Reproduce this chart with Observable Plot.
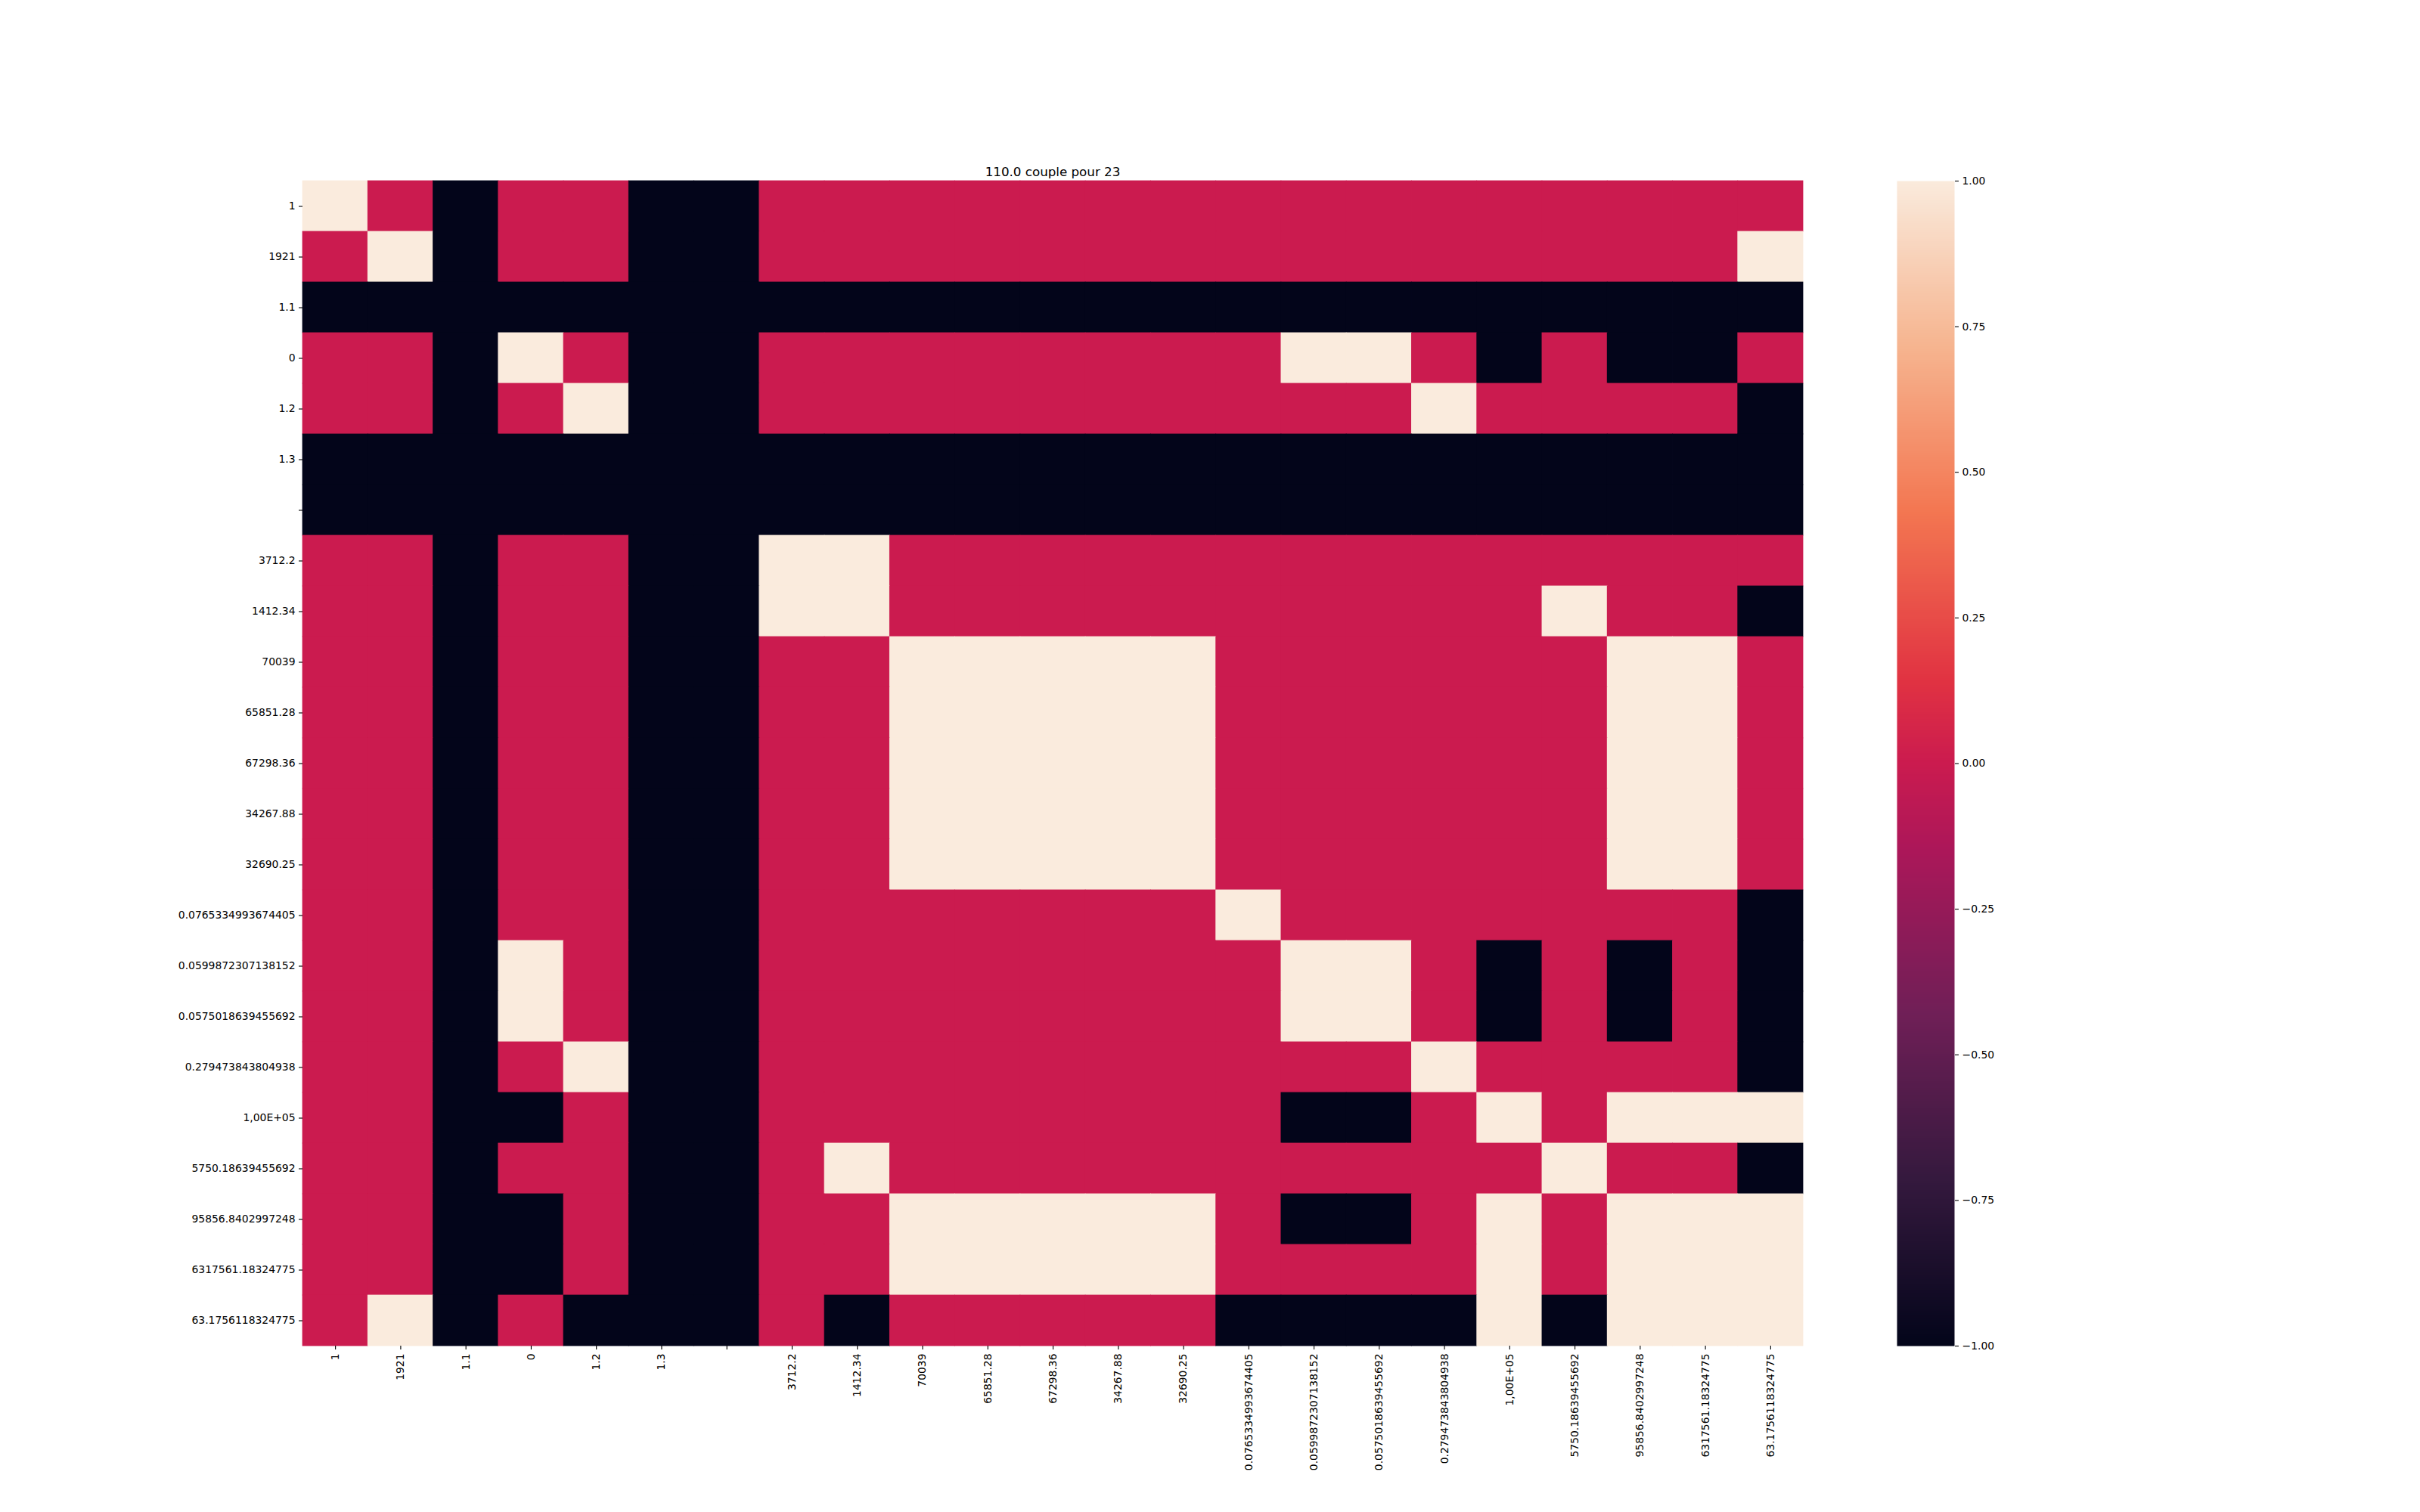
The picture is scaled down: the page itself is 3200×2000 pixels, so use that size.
<!DOCTYPE html>
<html>
<head>
<meta charset="utf-8">
<script src="https://cdn.jsdelivr.net/npm/d3@7"></script>
<script src="https://cdn.jsdelivr.net/npm/@observablehq/plot@0.6"></script>
<style>
  html, body { margin: 0; padding: 0; background: white; }
  #wrap { position: relative; width: 3200px; height: 2000px; background: white; font-family: "DejaVu Sans", sans-serif; }
  #title { position: absolute; left: 0; width: 2784px; top: 219px; text-align: center; font-size: 16.7px; line-height: 16.7px; color: black; }
  #heat, #bar { position: absolute; top: 0; }
  #heat { left: 0; }
  #bar { left: 2508px; }
</style>
</head>
<body>
<div id="wrap">
  <div id="heat"></div>
  <div id="bar"></div>
  <div id="title">110.0 couple pour 23</div>
</div>
<script>
const titleText = "110.0 couple pour 23";
const labels = ["1", "1921", "1.1", "0", "1.2", "1.3", "", "3712.2", "1412.34", "70039", "65851.28",
  "67298.36", "34267.88", "32690.25", "0.0765334993674405", "0.0599872307138152", "0.0575018639455692",
  "0.279473843804938", "1,00E+05", "5750.18639455692", "95856.8402997248", "6317561.18324775", "63.1756118324775"];

const matrix = [
  [ 1, 0,-1, 0, 0,-1,-1,  0, 0, 0, 0, 0, 0, 0,  0, 0, 0, 0, 0, 0, 0, 0, 0],
  [ 0, 1,-1, 0, 0,-1,-1,  0, 0, 0, 0, 0, 0, 0,  0, 0, 0, 0, 0, 0, 0, 0, 1],
  [-1,-1,-1,-1,-1,-1,-1, -1,-1,-1,-1,-1,-1,-1, -1,-1,-1,-1,-1,-1,-1,-1,-1],
  [ 0, 0,-1, 1, 0,-1,-1,  0, 0, 0, 0, 0, 0, 0,  0, 1, 1, 0,-1, 0,-1,-1, 0],
  [ 0, 0,-1, 0, 1,-1,-1,  0, 0, 0, 0, 0, 0, 0,  0, 0, 0, 1, 0, 0, 0, 0,-1],
  [-1,-1,-1,-1,-1,-1,-1, -1,-1,-1,-1,-1,-1,-1, -1,-1,-1,-1,-1,-1,-1,-1,-1],
  [-1,-1,-1,-1,-1,-1,-1, -1,-1,-1,-1,-1,-1,-1, -1,-1,-1,-1,-1,-1,-1,-1,-1],
  [ 0, 0,-1, 0, 0,-1,-1,  1, 1, 0, 0, 0, 0, 0,  0, 0, 0, 0, 0, 0, 0, 0, 0],
  [ 0, 0,-1, 0, 0,-1,-1,  1, 1, 0, 0, 0, 0, 0,  0, 0, 0, 0, 0, 1, 0, 0,-1],
  [ 0, 0,-1, 0, 0,-1,-1,  0, 0, 1, 1, 1, 1, 1,  0, 0, 0, 0, 0, 0, 1, 1, 0],
  [ 0, 0,-1, 0, 0,-1,-1,  0, 0, 1, 1, 1, 1, 1,  0, 0, 0, 0, 0, 0, 1, 1, 0],
  [ 0, 0,-1, 0, 0,-1,-1,  0, 0, 1, 1, 1, 1, 1,  0, 0, 0, 0, 0, 0, 1, 1, 0],
  [ 0, 0,-1, 0, 0,-1,-1,  0, 0, 1, 1, 1, 1, 1,  0, 0, 0, 0, 0, 0, 1, 1, 0],
  [ 0, 0,-1, 0, 0,-1,-1,  0, 0, 1, 1, 1, 1, 1,  0, 0, 0, 0, 0, 0, 1, 1, 0],
  [ 0, 0,-1, 0, 0,-1,-1,  0, 0, 0, 0, 0, 0, 0,  1, 0, 0, 0, 0, 0, 0, 0,-1],
  [ 0, 0,-1, 1, 0,-1,-1,  0, 0, 0, 0, 0, 0, 0,  0, 1, 1, 0,-1, 0,-1, 0,-1],
  [ 0, 0,-1, 1, 0,-1,-1,  0, 0, 0, 0, 0, 0, 0,  0, 1, 1, 0,-1, 0,-1, 0,-1],
  [ 0, 0,-1, 0, 1,-1,-1,  0, 0, 0, 0, 0, 0, 0,  0, 0, 0, 1, 0, 0, 0, 0,-1],
  [ 0, 0,-1,-1, 0,-1,-1,  0, 0, 0, 0, 0, 0, 0,  0,-1,-1, 0, 1, 0, 1, 1, 1],
  [ 0, 0,-1, 0, 0,-1,-1,  0, 1, 0, 0, 0, 0, 0,  0, 0, 0, 0, 0, 1, 0, 0,-1],
  [ 0, 0,-1,-1, 0,-1,-1,  0, 0, 1, 1, 1, 1, 1,  0,-1,-1, 0, 1, 0, 1, 1, 1],
  [ 0, 0,-1,-1, 0,-1,-1,  0, 0, 1, 1, 1, 1, 1,  0, 0, 0, 0, 1, 0, 1, 1, 1],
  [ 0, 1,-1, 0,-1,-1,-1,  0,-1, 0, 0, 0, 0, 0, -1,-1,-1,-1, 1,-1, 1, 1, 1]
];

const colorTicks = [-1, -0.75, -0.5, -0.25, 0, 0.25, 0.5, 0.75, 1];

// rocket colormap stops
const rocketDomain = [-1, -0.714, -0.429, -0.143, 0, 0.143, 0.429, 0.714, 1];
const rocketRange = ["#03051a", "#35193e", "#701f57", "#ad1759", "#cb1b4f", "#e13342", "#f37651", "#f6b48f", "#faebdd"];

const cells = [];
matrix.forEach((row, i) => row.forEach((v, j) => cells.push({row: labels[i], col: labels[j], value: v})));

const colorScale = {type: "linear", domain: rocketDomain, range: rocketRange, interpolate: "rgb", clamp: true};

const heat = Plot.plot({
  width: 3200,
  height: 2000,
  marginLeft: 400,
  marginRight: 816,
  marginTop: 239,
  marginBottom: 220,
  style: {fontFamily: "DejaVu Sans", fontSize: "13.9px", background: "transparent", color: "black"},
  x: {domain: labels, padding: 0, round: false, label: null},
  y: {domain: labels, padding: 0, round: false, label: null},
  color: colorScale,
  marks: [
    Plot.cell(cells, {x: "col", y: "row", fill: "value", inset: -0.4}),
    Plot.axisX({tickRotate: -90, tickSize: 5, tickPadding: 5, label: null, strokeWidth: 1.1}),
    Plot.axisY({tickSize: 5, tickPadding: 5, label: null, strokeWidth: 1.1})
  ]
});
document.getElementById("heat").appendChild(heat);

const bar = Plot.plot({
  width: 300,
  height: 2000,
  marginLeft: 0,
  marginRight: 224,
  marginTop: 239,
  marginBottom: 220,
  style: {fontFamily: "DejaVu Sans", fontSize: "13.9px", background: "transparent", color: "black"},
  x: {domain: [0, 1], axis: null},
  y: {domain: [-1, 1], axis: null},
  color: colorScale,
  marks: [
    Plot.raster({fill: (x, y) => y, x1: 0, x2: 1, y1: -1, y2: 1, width: 4, height: 512}),
    Plot.axisY({anchor: "right", ticks: colorTicks, tickFormat: d3.format(".2f"), tickSize: 5, tickPadding: 5, label: null, strokeWidth: 1.1})
  ]
});
document.getElementById("bar").appendChild(bar);
</script>
</body>
</html>
